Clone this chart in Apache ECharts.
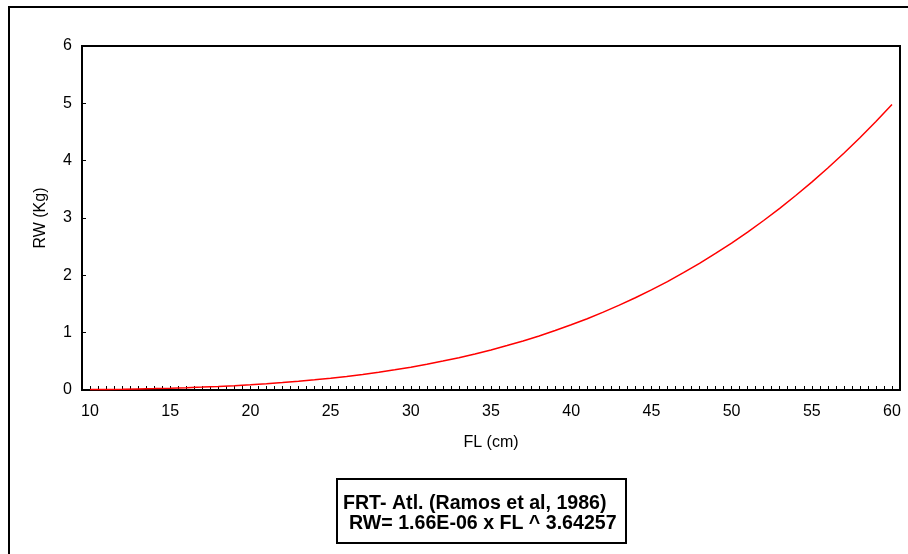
<!DOCTYPE html>
<html>
<head>
<meta charset="utf-8">
<script src="https://cdn.jsdelivr.net/npm/echarts@6/dist/echarts.min.js"></script>
<style>
html,body{margin:0;padding:0;background:#fff;}
#chart{width:908px;height:554px;}
</style>
</head>
<body>
<div id="chart"></div>
<script>
// Data (FL in cm, RW in Kg)
var fl = [10,11,12,13,14,15,16,17,18,19,20,21,22,23,24,25,26,27,28,29,30,31,32,33,34,35,36,37,38,39,40,41,42,43,44,45,46,47,48,49,50,51,52,53,54,55,56,57,58,59,60];
var rw = [0.0073,0.0103,0.0142,0.0190,0.0248,0.0319,0.0404,0.0504,0.0620,0.0755,0.0910,0.1087,0.1288,0.1515,0.1769,0.2052,0.2367,0.2716,0.3101,0.3524,0.3987,0.4493,0.5044,0.5642,0.6290,0.6990,0.7746,0.8559,0.9432,1.0368,1.1369,1.2439,1.3581,1.4796,1.6088,1.7461,1.8916,2.0457,2.2088,2.3811,2.5629,2.7546,2.9565,3.1689,3.3922,3.6267,3.8727,4.1306,4.4008,4.6835,4.9790];
var yTicks = [0,1,2,3,4,5,6];
var xLabelStep = 5;
var legendLines = ['FRT- Atl. (Ramos et al, 1986)', 'RW= 1.66E-06 x FL ^ 3.64257'];

var points = fl.map(function(x, i){ return [x, rw[i]]; });
var font = 'Liberation Sans, Arial, sans-serif';

var chart = echarts.init(document.getElementById('chart'));
chart.setOption({
  animation: false,
  backgroundColor: '#fff',
  grid: {
    left: 82, right: 8, top: 46, bottom: 164,
    show: true, borderColor: '#000', borderWidth: 2, backgroundColor: 'transparent'
  },
  xAxis: {
    type: 'value',
    min: 9.5, max: 60.5, interval: 0.5,
    name: 'FL (cm)', nameLocation: 'middle', nameGap: 45,
    nameTextStyle: {fontFamily: font, fontSize: 16, color: '#000'},
    axisLine: {show: true, onZero: false, lineStyle: {color: '#000', width: 2}},
    axisTick: {show: true, inside: true, length: 4, lineStyle: {color: '#000', width: 1}},
    axisLabel: {
      fontFamily: font, fontSize: 16, color: '#000', margin: 14,
      showMinLabel: false, showMaxLabel: false,
      formatter: function(v){ return (Math.abs(v % xLabelStep) < 1e-6) ? String(Math.round(v)) : ''; }
    },
    splitLine: {show: false}
  },
  yAxis: {
    type: 'value',
    min: yTicks[0], max: yTicks[yTicks.length-1], interval: 1,
    name: 'RW (Kg)', nameLocation: 'middle', nameGap: 33, nameRotate: 90,
    nameTextStyle: {fontFamily: font, fontSize: 16, color: '#000'},
    axisLine: {show: true, lineStyle: {color: '#000', width: 2}},
    axisTick: {show: true, inside: true, length: 4, lineStyle: {color: '#000', width: 1}},
    axisLabel: {fontFamily: font, fontSize: 16, color: '#000', margin: 10},
    splitLine: {show: false}
  },
  series: [{
    type: 'line',
    data: points,
    showSymbol: false,
    symbol: 'none',
    lineStyle: {color: '#ff0000', width: 1.5},
    z: 3
  }],
  graphic: [
    {
      type: 'rect', silent: true,
      shape: {x: 9, y: 7, width: 940, height: 600},
      style: {fill: 'none', stroke: '#000', lineWidth: 2}
    },
    {
      type: 'rect', silent: true,
      shape: {x: 337, y: 479, width: 289, height: 64},
      style: {fill: '#fff', stroke: '#000', lineWidth: 2}
    },
    {
      type: 'text', left: 343, top: 494,
      style: {text: legendLines[0], font: 'bold 19.6px ' + font, fill: '#000'}
    },
    {
      type: 'text', left: 349, top: 514,
      style: {text: legendLines[1], font: 'bold 19.6px ' + font, fill: '#000'}
    }
  ]
});
</script>
</body>
</html>
